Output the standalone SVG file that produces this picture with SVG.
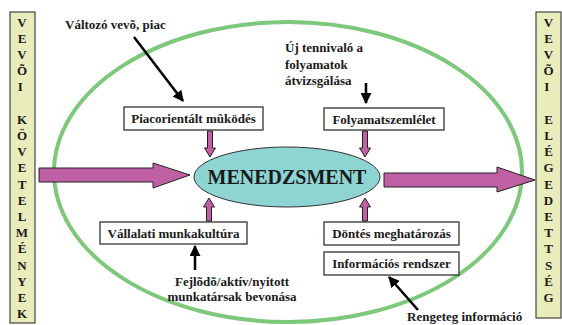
<svg xmlns="http://www.w3.org/2000/svg" width="562" height="325" viewBox="0 0 562 325">
<defs>
<style>
.t{font-family:"Liberation Serif","Times New Roman",serif;font-weight:bold;fill:#1a1a1a;}
.lbl{font-size:13px;}
.side{font-size:13px;text-anchor:middle;}
.box{fill:#fff;stroke:#222;stroke-width:1.2;}
.sbox{fill:#e9edbb;stroke:#444;stroke-width:1.2;}
.pink{fill:#c060a4;stroke:#222;stroke-width:1;}
.blk{stroke:#000;stroke-width:2.5;fill:none;marker-end:url(#ah);}
</style>
<marker id="ah" viewBox="0 0 10 10" refX="9" refY="5" markerWidth="4.4" markerHeight="4.4" orient="auto" markerUnits="strokeWidth">
<path d="M0,0 L10,5 L0,10 Z" fill="#000"/>
</marker>
</defs>
<rect width="562" height="325" fill="#fff"/>

<ellipse id="frame" cx="288" cy="172" rx="234" ry="150" fill="none" stroke="#7dc87a" stroke-width="4"/>

<g id="left-box">
<rect class="sbox" x="10" y="12" width="25" height="311"/>
<text class="t side">
<tspan x="22" y="26.5">V</tspan><tspan x="22" y="42.7">E</tspan><tspan x="22" y="58.9">V</tspan><tspan x="22" y="75.1">Õ</tspan><tspan x="22" y="91.3">I</tspan>
<tspan x="22" y="123.7">K</tspan><tspan x="22" y="139.9">Ö</tspan><tspan x="22" y="156.1">V</tspan><tspan x="22" y="172.3">E</tspan><tspan x="22" y="188.5">T</tspan><tspan x="22" y="204.7">E</tspan><tspan x="22" y="220.9">L</tspan><tspan x="22" y="237.1">M</tspan><tspan x="22" y="253.3">É</tspan><tspan x="22" y="269.5">N</tspan><tspan x="22" y="285.7">Y</tspan><tspan x="22" y="301.9">E</tspan><tspan x="22" y="318.1">K</tspan>
</text>
</g>

<g id="right-box">
<rect class="sbox" x="536" y="12" width="25" height="306"/>
<text class="t side">
<tspan x="548.5" y="26.5">V</tspan><tspan x="548.5" y="42.7">E</tspan><tspan x="548.5" y="58.9">V</tspan><tspan x="548.5" y="75.1">Õ</tspan><tspan x="548.5" y="91.3">I</tspan>
<tspan x="548.5" y="123.7">E</tspan><tspan x="548.5" y="139.9">L</tspan><tspan x="548.5" y="156.1">É</tspan><tspan x="548.5" y="172.3">G</tspan><tspan x="548.5" y="188.5">E</tspan><tspan x="548.5" y="204.7">D</tspan><tspan x="548.5" y="220.9">E</tspan><tspan x="548.5" y="237.1">T</tspan><tspan x="548.5" y="253.3">T</tspan><tspan x="548.5" y="269.5">S</tspan><tspan x="548.5" y="285.7">É</tspan><tspan x="548.5" y="301.9">G</tspan>
</text>
</g>

<g id="menedzsment">
<ellipse cx="287" cy="177" rx="93" ry="30" fill="#8ed4d2" stroke="#333" stroke-width="1"/>
<text class="t" x="287" y="184" font-size="20" text-anchor="middle">MENEDZSMENT</text>
</g>

<g id="piacorientalt">
<rect class="box" x="124" y="107" width="139" height="23"/>
<text class="t lbl" x="193.5" y="123" text-anchor="middle">Piacorientált mûködés</text>
</g>
<g id="folyamatszemlelet">
<rect class="box" x="324" y="108" width="120" height="22"/>
<text class="t lbl" x="384" y="123.5" text-anchor="middle">Folyamatszemlélet</text>
</g>
<g id="vallalati">
<rect class="box" x="100" y="222" width="147" height="22"/>
<text class="t lbl" x="173.5" y="237.5" text-anchor="middle">Vállalati munkakultúra</text>
</g>
<g id="dontes">
<rect class="box" x="324" y="222" width="135" height="23"/>
<text class="t lbl" x="391.5" y="238" text-anchor="middle">Döntés meghatározás</text>
</g>
<g id="informacios">
<rect class="box" x="324" y="252" width="135" height="23"/>
<text class="t lbl" x="391.5" y="268" text-anchor="middle">Információs rendszer</text>
</g>

<g id="label-valtozo"><text class="t lbl" x="65" y="29">Változó vevõ, piac</text></g>
<g id="label-uj">
<text class="t lbl" x="285" y="52">Új tennivaló a</text>
<text class="t lbl" x="285" y="68.5">folyamatok</text>
<text class="t lbl" x="285" y="85">átvizsgálása</text>
</g>
<g id="label-fejlodo">
<text class="t lbl" x="232" y="286" text-anchor="middle">Fejlõdõ/aktív/nyitott</text>
<text class="t lbl" x="232" y="301" text-anchor="middle">munkatársak bevonása</text>
</g>
<g id="label-rengeteg"><text class="t lbl" x="407" y="321">Rengeteg információ</text></g>

<g id="connectors">
<polygon class="pink" points="39,168 153,168 153,163 190,175 153,188 153,182 39,182"/>
<polygon class="pink" points="384,173 497,173 497,167 535,180 497,192 497,187 384,187"/>
<polygon class="pink" points="207.5,131 212.5,131 212.5,148 215.5,148 210,157 204.5,148 207.5,148"/>
<polygon class="pink" points="362.5,131 367.5,131 367.5,148 370.5,148 365,157 359.5,148 362.5,148"/>
<polygon class="pink" points="206.5,221 211.5,221 211.5,207 214.5,207 209,198 203.5,207 206.5,207"/>
<polygon class="pink" points="362.5,221 367.5,221 367.5,207 370.5,207 365,198 359.5,207 362.5,207"/>
<line class="blk" x1="134" y1="37" x2="183" y2="101"/>
<line class="blk" x1="366" y1="83" x2="366" y2="103"/>
<line class="blk" x1="195" y1="270" x2="195" y2="246"/>
<line class="blk" x1="418" y1="310" x2="389" y2="277"/>
</g>
</svg>
